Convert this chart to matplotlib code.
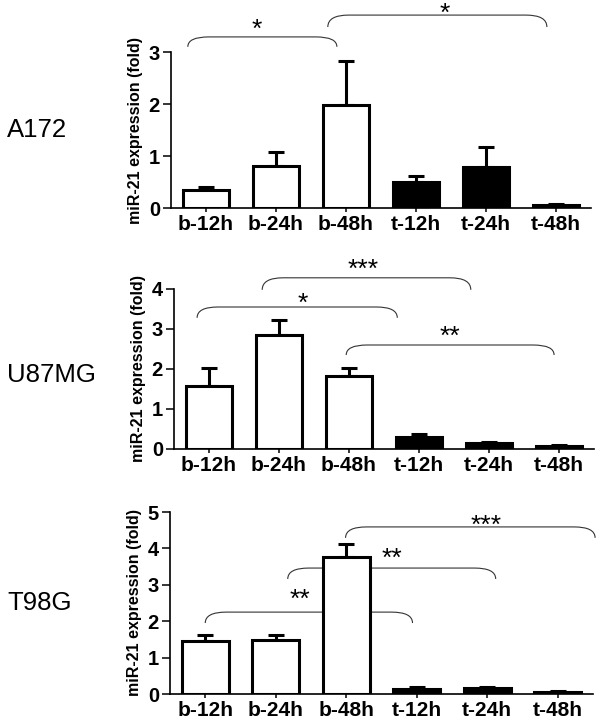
import numpy as np
import matplotlib
matplotlib.use('Agg')
import matplotlib.pyplot as plt
from matplotlib.path import Path
from matplotlib.patches import PathPatch
from matplotlib.transforms import offset_copy

plt.rcParams['font.family'] = ['Liberation Sans', 'DejaVu Sans']

groups = ['b-12h', 'b-24h', 'b-48h', 't-12h', 't-24h', 't-48h']
bar_colors = ['white', 'white', 'white', 'black', 'black', 'black']

cells = ['A172', 'U87MG', 'T98G']

a172_mean = [0.35, 0.81, 1.99, 0.50, 0.79, 0.05]
a172_err = [0.05, 0.27, 0.83, 0.12, 0.38, 0.03]

u87_mean = [1.58, 2.86, 1.83, 0.31, 0.14, 0.08]
u87_err = [0.45, 0.36, 0.20, 0.07, 0.03, 0.02]

t98_mean = [1.46, 1.49, 3.76, 0.15, 0.16, 0.06]
t98_err = [0.15, 0.12, 0.37, 0.03, 0.04, 0.01]

a172_sig = ['*', '*']
u87_sig = ['*', '***', '**']
t98_sig = ['**', '**', '***']

# bracket layout: x0, x1, y top, y of the ends, star x, star y
a172_br = [(-0.26, 1.87, 3.29, 3.10, 0.72, 3.50),
           (1.74, 4.87, 3.71, 3.48, 3.41, 3.82)]
u87_br = [(-0.17, 2.69, 3.55, 3.28, 1.34, 3.74),
          (0.76, 3.74, 4.28, 3.98, 2.20, 4.58),
          (1.96, 4.93, 2.60, 2.35, 3.44, 2.92)]
t98_br = [(0.0, 2.94, 2.25, 1.95, 1.34, 2.70),
          (1.17, 4.12, 3.46, 3.16, 2.65, 3.83),
          (1.99, 5.53, 4.59, 4.29, 3.99, 4.72)]


def bracket(ax, x0, x1, ytop, yend, dx=0.3):
    verts = [(x0, yend), (x0, ytop), (x0 + dx, ytop),
             (x1 - dx, ytop),
             (x1, ytop), (x1, yend)]
    codes = [Path.MOVETO, Path.CURVE3, Path.CURVE3,
             Path.LINETO,
             Path.CURVE3, Path.CURVE3]
    p = PathPatch(Path(verts, codes), fill=False, lw=0.8, ec='#333333',
                  clip_on=False, zorder=1)
    ax.add_patch(p)


def panel(rect, means, errs, ymax, sig, br, name, name_y):
    ax = fig.add_axes(rect)
    x = np.arange(len(groups))
    ax.bar(x, means, width=0.67, color=bar_colors, edgecolor='black',
           linewidth=2.2, zorder=3)
    ax.errorbar(x, means, yerr=[np.zeros(len(errs)), errs], fmt='none',
                ecolor='black', elinewidth=2.2, capsize=6, capthick=2.2, zorder=2)
    star_tr = offset_copy(ax.transData, fig=fig, y=-3, units='points')
    for (x0, x1, yt, ye, sx, sy), s in zip(br, sig):
        bracket(ax, x0, x1, yt, ye)
        ax.text(sx, sy, s, ha='center', va='center', fontsize=19, clip_on=False,
                transform=star_tr)
    ax.set_xlim(-0.5, 5.5)
    ax.set_ylim(0, ymax)
    ax.set_yticks(range(ymax + 1))
    ax.set_xticks(x)
    ax.set_xticklabels(groups, fontsize=15, fontweight='bold')
    for lab in ax.get_yticklabels():
        lab.set_fontsize(14.5)
        lab.set_fontweight('bold')
    ax.tick_params(axis='y', length=6, width=1.1, pad=2)
    ax.tick_params(axis='x', length=3, width=1.1, pad=2)
    for sp in ['top', 'right']:
        ax.spines[sp].set_visible(False)
    for sp in ['left', 'bottom']:
        ax.spines[sp].set_linewidth(1.2)
    ax.set_ylabel('miR-21 expression (fold)', fontsize=11.5, fontweight='bold',
                  labelpad=4)
    fig.text(7 / 600, 1 - name_y / 722, name, fontsize=18.5, ha='left', va='center')
    return ax


fig = plt.figure(figsize=(6, 7.22), dpi=100)

panel([171 / 600, 1 - 208 / 722, 420 / 600, 156 / 722], a172_mean, a172_err, 3,
      a172_sig, a172_br, cells[0], 130)
panel([174 / 600, 1 - 449 / 722, 420 / 600, 160 / 722], u87_mean, u87_err, 4,
      u87_sig, u87_br, cells[1], 375)
panel([170 / 600, 1 - 694 / 722, 423 / 600, 182 / 722], t98_mean, t98_err, 5,
      t98_sig, t98_br, cells[2], 603)

fig.savefig('out.png', dpi=100)
